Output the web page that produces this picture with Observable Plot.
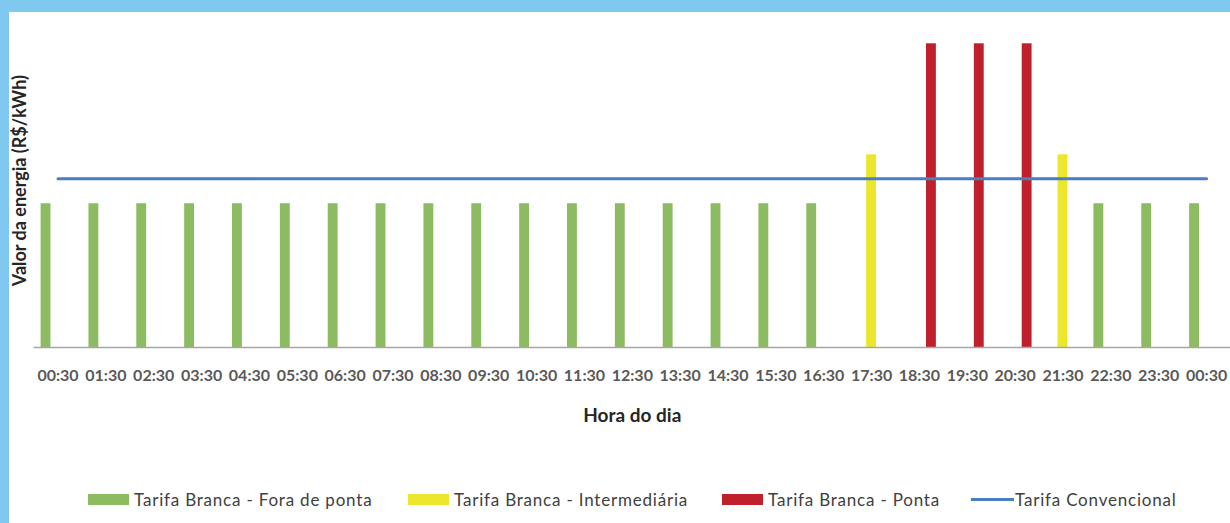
<!DOCTYPE html>
<html><head><meta charset="utf-8">
<script src="https://cdn.jsdelivr.net/npm/d3@7"></script>
<script src="https://cdn.jsdelivr.net/npm/@observablehq/plot@0.6"></script>
<style>
html,body{margin:0;padding:0;width:1230px;height:523px;overflow:hidden;background:#7fc8ef;}
#panel{position:absolute;left:9px;top:12px;width:1221px;height:511px;background:#fff;overflow:hidden;}
#chart{position:absolute;left:0;top:0;}
.item{position:absolute;top:478px;height:18px;display:flex;align-items:center;font:17px Lato,sans-serif;letter-spacing:0.8px;color:#404040;white-space:nowrap;}
.sw{width:41px;height:11px;margin-right:5px;}
.ln{width:43px;height:3px;background:#4a7ec3;margin-right:1px;}
</style></head>
<body>
<div id="panel">
  <div id="chart"></div>
  <div id="legend"></div>
</div>
<script>
const hours = ["00:30","01:30","02:30","03:30","04:30","05:30","06:30","07:30","08:30","09:30","10:30","11:30","12:30","13:30","14:30","15:30","16:30","17:30","18:30","19:30","20:30","21:30","22:30","23:30","00:30"];
const foraDePonta = [0.426,0.426,0.426,0.426,0.426,0.426,0.426,0.426,0.426,0.426,0.426,0.426,0.426,0.426,0.426,0.426,0.426,null,null,null,null,null,0.426,0.426,0.426];
const intermediaria = [null,null,null,null,null,null,null,null,null,null,null,null,null,null,null,null,null,0.571,null,null,null,0.571,null,null,null];
const ponta = [null,null,null,null,null,null,null,null,null,null,null,null,null,null,null,null,null,null,0.90,0.90,0.90,null,null,null,null];
const convencional = [0.50,0.50,0.50,0.50,0.50,0.50,0.50,0.50,0.50,0.50,0.50,0.50,0.50,0.50,0.50,0.50,0.50,0.50,0.50,0.50,0.50,0.50,0.50,0.50,0.50];
const seriesNames = ["Tarifa Branca - Fora de ponta","Tarifa Branca - Intermediária","Tarifa Branca - Ponta","Tarifa Convencional"];
const colors = ["#8cbb61","#ece72c","#c0202a","#4a7ec3"];

const idx = hours.map((h, i) => i);
const rows = idx.map(i => ({i, fp: foraDePonta[i], im: intermediaria[i], pt: ponta[i], cv: convencional[i]}));

const font = "Lato, sans-serif";
const chart = Plot.plot({
  width: 1221, height: 420,
  marginLeft: 24.6, marginRight: 0, marginTop: 31.3, marginBottom: 85,
  style: {fontFamily: font, background: "white"},
  x: {type: "band", domain: idx, padding: 0, round: false, label: null},
  y: {domain: [0, 0.9], axis: null},
  marks: [
    Plot.barY(rows.filter(d => d.fp != null), {x: "i", y: "fp", fill: colors[0], dx: -12, insetLeft: 19, insetRight: 19}),
    Plot.barY(rows.filter(d => d.im != null), {x: "i", y: "im", fill: colors[1], dx: 0, insetLeft: 19, insetRight: 19}),
    Plot.barY(rows.filter(d => d.pt != null), {x: "i", y: "pt", fill: colors[2], dx: 12, insetLeft: 19, insetRight: 19}),
    Plot.ruleY([0], {stroke: "#a6a6a6", strokeWidth: 1.5}),
    Plot.lineY(rows, {x: "i", y: "cv", stroke: colors[3], strokeWidth: 3, strokeLinecap: "round"}),
    Plot.axisX({tickSize: 0, tickPadding: 22, tickFormat: i => hours[i], fontSize: 16, fontWeight: "bold", color: "#595959", label: null}),
    Plot.text(["Hora do dia"], {text: d => d, frameAnchor: "bottom", textAnchor: "middle", lineAnchor: "middle", dy: 68, fontSize: 19, fontWeight: "bold", fill: "#262626", fontFamily: font}),
    Plot.text(["Valor da energia (R$/kWh)"], {text: d => d, frameAnchor: "left", textAnchor: "middle", lineAnchor: "middle", rotate: -90, dx: -13.6, dy: -15, fontSize: 18, fontWeight: "bold", fill: "#262626", fontFamily: font})
  ]
});
document.getElementById("chart").appendChild(chart);

const legendX = [79, 399, 713, 962];
const legend = document.getElementById("legend");
seriesNames.forEach((name, k) => {
  const it = document.createElement("div");
  it.className = "item";
  it.style.left = legendX[k] + "px";
  const sw = document.createElement("span");
  if (k < 3) { sw.className = "sw"; sw.style.background = colors[k]; }
  else { sw.className = "ln"; }
  const tx = document.createElement("span");
  tx.textContent = name;
  it.appendChild(sw); it.appendChild(tx);
  legend.appendChild(it);
});
</script>
</body></html>
